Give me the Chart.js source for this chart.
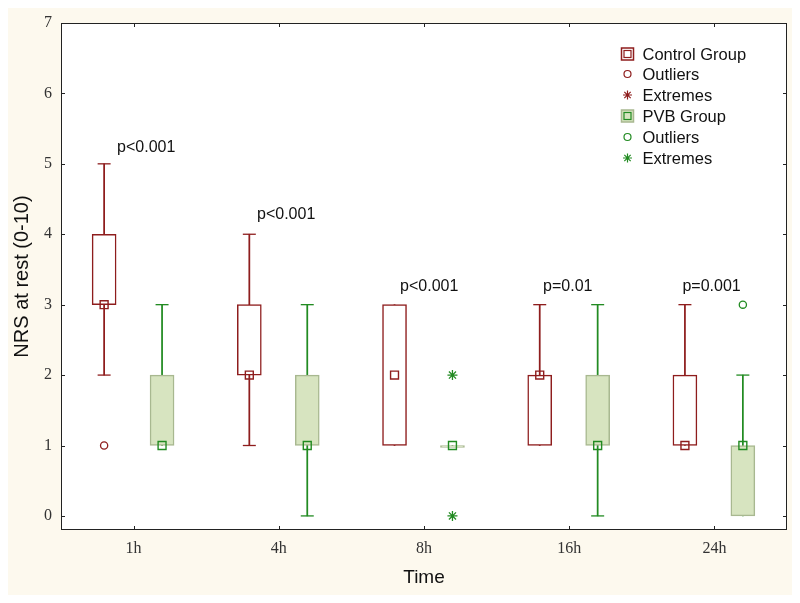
<!DOCTYPE html>
<html>
<head>
<meta charset="utf-8">
<script src="https://cdn.jsdelivr.net/npm/chart.js@4"></script>
<style>
   html, body { margin: 0; padding: 0; background: #fff; }
   #wrap { width: 800px; height: 603px; position: relative; }
</style>
</head>
<body>
<div id="wrap"><canvas id="nrsChart" width="800" height="603"></canvas></div>
<script>
// categories and y ticks
const timeLabels = ['1h', '4h', '8h', '16h', '24h'];
const yTicks = [0, 1, 2, 3, 4, 5, 6, 7];
const pLabels = ['p<0.001', 'p<0.001', 'p<0.001', 'p=0.01', 'p=0.001'];
const pLevels = [5.23, 4.28, 3.25, 3.25, 3.25];

// Control group
const controlQ1 = [3, 2, 1, 1, 1];
const controlQ3 = [4, 3, 3, 2, 2];
const controlMedian = [3, 2, 2, 2, 1];
const controlMin = [2, 1, 1, 1, 1];
const controlMax = [5, 4, 3, 3, 3];
const controlOutliers = [[0, 1]];
const controlExtremes = [];

// PVB group
const pvbQ1 = [1, 1, 1, 1, 0];
const pvbQ3 = [2, 2, 1, 2, 1];
const pvbMedian = [1, 1, 1, 1, 1];
const pvbMin = [1, 0, 1, 0, 0];
const pvbMax = [3, 3, 1, 3, 2];
const pvbOutliers = [[4, 3]];
const pvbExtremes = [[2, 0], [2, 2]];

// layout constants (not data)
const CTRL_SHIFT = -0.203;
const PVB_SHIFT = 0.196;
const P_SHIFT = [-0.114, -0.15, -0.165, -0.18, -0.22];
const RED = '#8e1d1d';
const GREEN = '#228b22';
const GREEN_FILL = '#d7e4c0';
const GREEN_EDGE = '#a8b890';

function boxes(q1, q3, shift) {
   return q1.map((v, i) => ({ x: i + shift, y: [v, q3[i]] }));
}
function points(values, shift) {
   return values.map((v, i) => ({ x: i + shift, y: v }));
}
function pairs(list, shift) {
   return list.map(p => ({ x: p[0] + shift, y: p[1] }));
}
// caps only where the whisker goes past the box
function caps(min, max, q1, q3, shift) {
   const out = [];
   min.forEach((v, i) => { if (v < q1[i]) out.push({ x: i + shift, y: v }); });
   max.forEach((v, i) => { if (v > q3[i]) out.push({ x: i + shift, y: v }); });
   return out;
}

const backgroundPlugin = {
   id: 'background',
   beforeDraw(chart) {
      const { ctx, chartArea: a } = chart;
      ctx.save();
      ctx.fillStyle = '#ffffff';
      ctx.fillRect(0, 0, chart.width, chart.height);
      ctx.fillStyle = '#fdf9ee';
      ctx.fillRect(8, 8, 784, 587);
      ctx.fillStyle = '#ffffff';
      ctx.fillRect(a.left, a.top, a.right - a.left, a.bottom - a.top);
      ctx.restore();
   }
};

const framePlugin = {
   id: 'frame',
   afterDraw(chart) {
      const { ctx, chartArea: a, scales } = chart;
      ctx.save();
      ctx.strokeStyle = '#222';
      ctx.lineWidth = 1;
      ctx.strokeRect(Math.round(a.left) + 0.5, Math.round(a.top) + 0.5,
         Math.round(a.right - a.left) - 1, Math.round(a.bottom - a.top) - 1);
      ctx.beginPath();
      yTicks.forEach(v => {
         const y = Math.round(scales.y.getPixelForValue(v)) + 0.5;
         ctx.moveTo(a.left, y); ctx.lineTo(a.left + 4, y);
         ctx.moveTo(a.right, y); ctx.lineTo(a.right - 4, y);
      });
      timeLabels.forEach((t, i) => {
         const x = Math.round(scales.x.getPixelForValue(i)) + 0.5;
         ctx.moveTo(x, a.bottom); ctx.lineTo(x, a.bottom - 4);
         ctx.moveTo(x, a.top); ctx.lineTo(x, a.top + 4);
      });
      ctx.stroke();

      // p-values
      ctx.fillStyle = '#111';
      ctx.font = '16px "Liberation Sans", Arial, sans-serif';
      ctx.textBaseline = 'middle';
      ctx.textAlign = 'left';
      pLabels.forEach((t, i) => {
         ctx.fillText(t, scales.x.getPixelForValue(i + P_SHIFT[i]), scales.y.getPixelForValue(pLevels[i]));
      });
      ctx.restore();
   }
};

const legendItems = [
   { text: 'Control Group', kind: 'box', color: RED, fill: '#fff', edge: RED },
   { text: 'Outliers', kind: 'circle', color: RED },
   { text: 'Extremes', kind: 'star', color: RED },
   { text: 'PVB Group', kind: 'box', color: GREEN, fill: GREEN_FILL, edge: GREEN_EDGE },
   { text: 'Outliers', kind: 'circle', color: GREEN },
   { text: 'Extremes', kind: 'star', color: GREEN }
];

const legendPlugin = {
   id: 'boxLegend',
   afterDraw(chart) {
      const { ctx } = chart;
      const x0 = 627.5, y0 = 53.5, step = 20.9;
      ctx.save();
      ctx.font = '16.5px "Liberation Sans", Arial, sans-serif';
      ctx.textBaseline = 'middle';
      legendItems.forEach((it, i) => {
         const y = Math.round(y0 + i * step);
         if (it.kind === 'box') {
            ctx.fillStyle = it.fill;
            ctx.strokeStyle = it.edge;
            ctx.lineWidth = 1.5;
            ctx.fillRect(x0 - 6, y - 6, 12, 12);
            ctx.strokeRect(x0 - 6, y - 6, 12, 12);
            ctx.strokeStyle = it.color;
            ctx.lineWidth = 1.2;
            ctx.strokeRect(x0 - 3.5, y - 3.5, 7, 7);
         } else {
            ctx.strokeStyle = it.color;
            ctx.lineWidth = 1.2;
            ctx.beginPath();
            if (it.kind === 'circle') {
               ctx.arc(x0, y, 3.5, 0, Math.PI * 2);
            } else {
               for (let k = 0; k < 4; k++) {
                  const ang = k * Math.PI / 4;
                  ctx.moveTo(x0 - 4.5 * Math.cos(ang), y - 4.5 * Math.sin(ang));
                  ctx.lineTo(x0 + 4.5 * Math.cos(ang), y + 4.5 * Math.sin(ang));
               }
            }
            ctx.stroke();
         }
         ctx.fillStyle = '#111';
         ctx.fillText(it.text, x0 + 15, y + 1);
      });
      ctx.restore();
   }
};

const ctx = document.getElementById('nrsChart').getContext('2d');
new Chart(ctx, {
   type: 'bar',
   data: {
      datasets: [
         // whiskers
         {
            data: controlMin.map((v, i) => ({ x: i + CTRL_SHIFT, y: [v, controlMax[i]] })),
            backgroundColor: RED, borderWidth: 0, barThickness: 1.1, order: 5
         },
         {
            data: pvbMin.map((v, i) => ({ x: i + PVB_SHIFT, y: [v, pvbMax[i]] })),
            backgroundColor: GREEN, borderWidth: 0, barThickness: 1.1, order: 5
         },
         // boxes
         {
            data: boxes(controlQ1, controlQ3, CTRL_SHIFT),
            backgroundColor: '#ffffff', borderColor: RED, borderWidth: 1.5,
            borderSkipped: false, barThickness: 24, order: 4
         },
         {
            data: boxes(pvbQ1, pvbQ3, PVB_SHIFT),
            backgroundColor: GREEN_FILL, borderColor: GREEN_EDGE, borderWidth: 1.5,
            borderSkipped: false, barThickness: 24, minBarLength: 2, order: 4
         },
         // whisker caps
         {
            type: 'scatter',
            data: caps(controlMin, controlMax, controlQ1, controlQ3, CTRL_SHIFT),
            pointStyle: 'line', radius: 6.5, borderColor: RED, borderWidth: 1.3, order: 3
         },
         {
            type: 'scatter',
            data: caps(pvbMin, pvbMax, pvbQ1, pvbQ3, PVB_SHIFT),
            pointStyle: 'line', radius: 6.5, borderColor: GREEN, borderWidth: 1.3, order: 3
         },
         // medians
         {
            type: 'scatter',
            data: points(controlMedian, CTRL_SHIFT),
            pointStyle: 'rect', radius: 5.6, backgroundColor: 'rgba(0,0,0,0)',
            borderColor: RED, borderWidth: 1.4, order: 2
         },
         {
            type: 'scatter',
            data: points(pvbMedian, PVB_SHIFT),
            pointStyle: 'rect', radius: 5.6, backgroundColor: 'rgba(0,0,0,0)',
            borderColor: GREEN, borderWidth: 1.4, order: 2
         },
         // outliers and extremes
         {
            type: 'scatter',
            data: pairs(controlOutliers, CTRL_SHIFT),
            pointStyle: 'circle', radius: 3.6, backgroundColor: 'rgba(0,0,0,0)',
            borderColor: RED, borderWidth: 1.3, order: 1
         },
         {
            type: 'scatter',
            data: pairs(pvbOutliers, PVB_SHIFT),
            pointStyle: 'circle', radius: 3.6, backgroundColor: 'rgba(0,0,0,0)',
            borderColor: GREEN, borderWidth: 1.3, order: 1
         },
         {
            type: 'scatter',
            data: pairs(controlExtremes, CTRL_SHIFT),
            pointStyle: 'star', radius: 5, borderColor: RED, borderWidth: 1.3, order: 1
         },
         {
            type: 'scatter',
            data: pairs(pvbExtremes, PVB_SHIFT),
            pointStyle: 'star', radius: 5, borderColor: GREEN, borderWidth: 1.3, order: 1
         }
      ]
   },
   options: {
      responsive: false,
      animation: false,
      grouped: false,
      layout: { padding: { top: 23, right: 13, left: 0, bottom: 0 } },
      plugins: {
         legend: { display: false },
         tooltip: { enabled: false }
      },
      scales: {
         x: {
            type: 'linear',
            offset: false,
            min: -0.5,
            max: 4.5,
            afterBuildTicks: (scale) => { scale.ticks = timeLabels.map((t, i) => ({ value: i })); },
            afterFit: (scale) => { scale.height = 73; },
            grid: { display: false, drawTicks: false, offset: false },
            border: { display: false },
            ticks: {
               padding: 9,
               color: '#333',
               font: { family: '"Liberation Serif", "Times New Roman", serif', size: 16 },
               callback: (value) => timeLabels[value] || ''
            },
            title: {
               display: true,
               text: 'Time',
               color: '#111',
               padding: { top: 4, bottom: 14 },
               font: { family: '"Liberation Sans", Arial, sans-serif', size: 19 }
            }
         },
         y: {
            type: 'linear',
            min: -0.2,
            max: 7,
            afterBuildTicks: (scale) => { scale.ticks = yTicks.map(v => ({ value: v })); },
            afterFit: (scale) => { scale.width = 61; },
            grid: { display: false, drawTicks: false },
            border: { display: false },
            ticks: {
               padding: 9,
               color: '#333',
               font: { family: '"Liberation Serif", "Times New Roman", serif', size: 16 },
               callback: (value) => String(value)
            },
            title: {
               display: true,
               text: 'NRS at rest (0-10)',
               color: '#111',
               padding: { top: 10, bottom: 0 },
               font: { family: '"Liberation Sans", Arial, sans-serif', size: 20 }
            }
         }
      }
   },
   plugins: [backgroundPlugin, framePlugin, legendPlugin]
});
</script>
</body>
</html>
